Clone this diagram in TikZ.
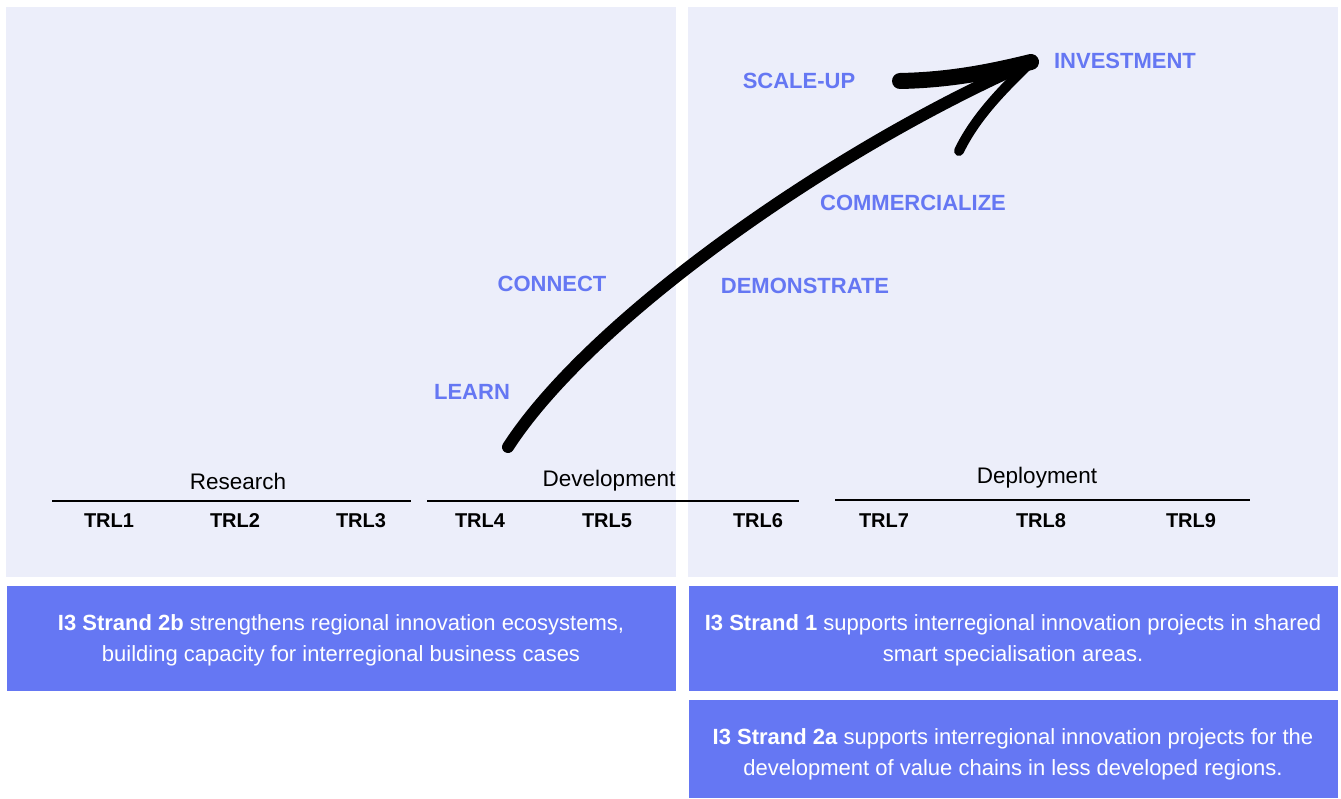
\documentclass[tikz,border=0pt]{standalone}
\usepackage{fontspec}
\setmainfont{Liberation Sans}
\definecolor{panelbg}{HTML}{ECEEFA}
\definecolor{boxblue}{HTML}{6577F3}
\definecolor{lblblue}{HTML}{6577F3}
\begin{document}
\begin{tikzpicture}[x=1pt,y=-1pt,
  panel/.style={fill=panelbg,draw=none},
  bluebox/.style={fill=boxblue,draw=none},
  stage/.style={font=\fontsize{22}{24}\selectfont\bfseries,text=lblblue,inner sep=0pt},
  trl/.style={font=\fontsize{20}{24}\selectfont\bfseries,inner sep=0pt},
  phase/.style={font=\fontsize{22.5}{24}\selectfont,inner sep=0pt},
  phaseline/.style={line width=1.6pt,black},
  boxtext/.style={font=\fontsize{22}{31}\selectfont,text=white,align=center,inner sep=0pt},
  stroke/.style={line cap=round,line join=round,black}]
\useasboundingbox (0,0) rectangle (1341,799);
% panels
\fill[white] (0,0) rectangle (1341,799);
\path[panel] (6,7) rectangle (676,577);
\path[panel] (688,7) rectangle (1338,577);
% blue boxes
\path[bluebox] (7,586) rectangle (676,691);
\path[bluebox] (689,586) rectangle (1338,691);
\path[bluebox] (689,700) rectangle (1338,798);
% phase lines
\coordinate (r1) at (52,501); \coordinate (r2) at (411,501);
\coordinate (d1) at (427,501); \coordinate (d2) at (799,501);
\coordinate (p1) at (835,500); \coordinate (p2) at (1250,500);
\draw[phaseline] (r1) -- (r2);
\draw[phaseline] (d1) -- (d2);
\draw[phaseline] (p1) -- (p2);
\node[phase] (research) at (238,481) {Research};
\node[phase] (development) at (609,481) {Development};
\node[phase] (deployment) at (1037,478) {Deployment};
% TRL
\node[trl] (t1) at (109,521) {TRL1};
\node[trl] (t2) at (235,521) {TRL2};
\node[trl] (t3) at (361,521) {TRL3};
\node[trl] (t4) at (480,521) {TRL4};
\node[trl] (t5) at (607,521) {TRL5};
\node[trl] (t6) at (758,521) {TRL6};
\node[trl] (t7) at (884,521) {TRL7};
\node[trl] (t8) at (1041,521) {TRL8};
\node[trl] (t9) at (1191,521) {TRL9};
% stages
\node[stage] (invest) at (1125,61) {INVESTMENT};
\node[stage] (scale) at (799,81) {SCALE-UP};
\node[stage] (comm) at (913,203) {COMMERCIALIZE};
\node[stage] (demo) at (805,286) {DEMONSTRATE};
\node[stage] (conn) at (552,284) {CONNECT};
\node[stage] (learn) at (472,392) {LEARN};
% arrow
\coordinate (as) at (508,447);
\coordinate (tip) at (1031,62);
\coordinate (ub) at (900,81);
\coordinate (lb) at (959,151);
\draw[stroke,line width=12pt] (as) .. controls (590,320) and (830,150) .. (tip);
\draw[stroke,line width=16pt] (ub) .. controls (950,80) and (990,72) .. (tip);
\draw[stroke,line width=10pt] (lb) .. controls (975,118) and (1000,92) .. (tip);
% box texts
\node[boxtext] (s2b) at (341,640) {\textbf{I3 Strand 2b} strengthens regional innovation ecosystems,\\building capacity for interregional business cases};
\node[boxtext] (s1) at (1013,640) {\textbf{I3 Strand 1} supports interregional innovation projects in shared\\smart specialisation areas.};
\node[boxtext] (s2a) at (1013,754) {\textbf{I3 Strand 2a} supports interregional innovation projects for the\\development of value chains in less developed regions.};
\end{tikzpicture}
\end{document}
